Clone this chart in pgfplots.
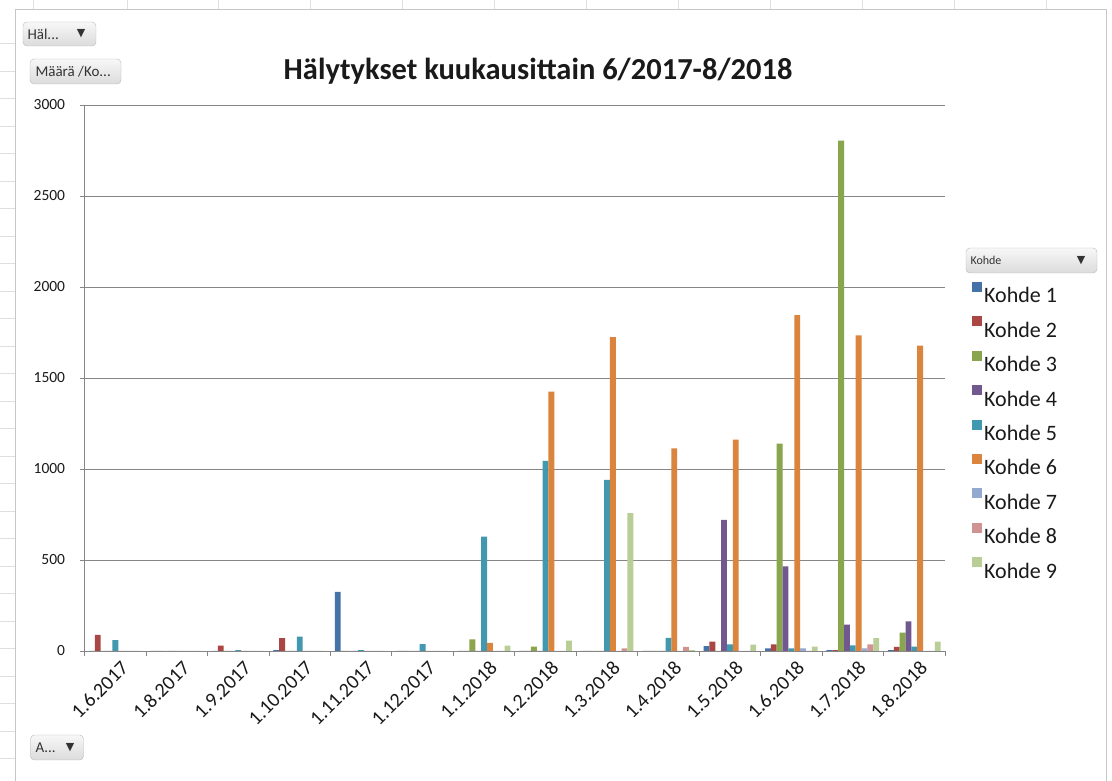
\documentclass[border=0pt]{standalone}
\usepackage{fontspec}
\setmainfont{Carlito}
\newfontfamily\symfont{DejaVu Sans}
\usepackage{pgfplots}
\usepackage{pgfplotstable}
\pgfplotsset{compat=1.18}

\definecolor{k1}{HTML}{4572A7}
\definecolor{k2}{HTML}{AA4643}
\definecolor{k3}{HTML}{89A54E}
\definecolor{k4}{HTML}{71588F}
\definecolor{k5}{HTML}{4198AF}
\definecolor{k6}{HTML}{DB843D}
\definecolor{k7}{HTML}{93A9CF}
\definecolor{k8}{HTML}{D19392}
\definecolor{k9}{HTML}{B9CD96}
\definecolor{gridgray}{HTML}{868686}
\definecolor{txt}{HTML}{1A1A1A}

% alerts per month and site
\pgfplotstableread{
x k1 k2 k3 k4 k5 k6 k7 k8 k9
0 0 88 0 0 60 0 0 0 0
1 0 0 0 0 0 0 0 0 0
2 0 30 0 0 5 0 0 0 0
3 5 71 0 0 79 0 0 0 0
4 325 0 0 0 5 0 0 0 0
5 0 0 0 0 38 0 0 0 0
6 0 0 64 0 628 44 0 0 29
7 0 0 24 0 1045 1425 0 0 57
8 0 0 0 0 940 1725 0 15 758
9 0 0 0 0 72 1113 0 22 5
10 27 51 0 720 37 1161 0 0 35
11 15 37 1139 465 15 1846 15 0 24
12 5 5 2804 145 31 1734 15 37 71
13 5 22 101 163 24 1678 0 0 51
}\datatable

% square legend swatch sitting at cap height
\pgfplotsset{/pgfplots/ybar legend/.style={
  /pgfplots/legend image code/.code={\fill[##1] (0pt,4pt) rectangle (10pt,14pt);}}}

\tikzset{
  pivotbtn/.style={draw=gray!55, rounded corners=4pt, top color=gray!6, bottom color=gray!28,
    inner sep=0pt},
  btntext/.style={font=\fontsize{15}{17}\selectfont, text=black!80}
}

\begin{document}
\begin{tikzpicture}[x=1pt,y=1pt]
\useasboundingbox (0,0) rectangle (1112,781);
\fill[white] (0,0) rectangle (1112,781);
% worksheet cell lines around the chart object
\foreach \gx in {33,127,218,310,402,494,586,678,770,862,954,1046}
  \draw[gray!25] (\gx,772) -- (\gx,781);
\foreach \gy in {738,710,683,655,628,600,573,545,518,490,463,435,408,380,353,325,298,270,243,215,188,160,133,105,78,50,23}
  \draw[gray!25] (0,\gy) -- (15,\gy);
% chart area frame
\draw[gray!45, line width=0.8pt] (15,-10) rectangle (1106,772);

\begin{axis}[
  at={(84.6pt,130pt)}, anchor=south west,
  scale only axis, width=860.4pt, height=546pt,
  xmin=-0.5, xmax=13.5, ymin=0, ymax=3000,
  ybar=0pt, bar width=5.85pt,
  axis lines*=left,
  axis line style={gridgray, line width=0.8pt},
  ytick={0,500,...,3000},
  ymajorgrids, grid style={gridgray, line width=0.8pt},
  tick align=outside,
  major tick length=5pt, minor tick length=5pt,
  tick style={gridgray, line width=0.8pt},
  xtick={0,...,13},
  xticklabels={1.6.2017,1.8.2017,1.9.2017,1.10.2017,1.11.2017,1.12.2017,1.1.2018,1.2.2018,1.3.2018,1.4.2018,1.5.2018,1.6.2018,1.7.2018,1.8.2018},
  major x tick style={draw=none},
  minor xtick={-0.5,0.5,...,13.5},
  /pgf/number format/assume math mode=true,
  /pgf/number format/1000 sep={},
  yticklabel style={font=\fontsize{15.5}{18}\selectfont, text=txt, xshift=-11pt},
  xticklabel style={font=\fontsize{20}{23}\selectfont, text=txt, rotate=45, anchor=east, xshift=4pt, yshift=-13pt},
  legend style={at={(axis description cs:1.0313,0.676)}, anchor=north west, draw=none, fill=none,
    font=\fontsize{22}{26}\selectfont, text=txt, row sep=10pt, inner sep=0pt,
    /tikz/every even column/.append style={column sep=0pt}},
  legend cell align=left,
  every axis plot/.append style={draw=none},
]
\addplot[fill=k1] table[x=x,y=k1]{\datatable}; \addlegendentry{Kohde 1}
\addplot[fill=k2] table[x=x,y=k2]{\datatable}; \addlegendentry{Kohde 2}
\addplot[fill=k3] table[x=x,y=k3]{\datatable}; \addlegendentry{Kohde 3}
\addplot[fill=k4] table[x=x,y=k4]{\datatable}; \addlegendentry{Kohde 4}
\addplot[fill=k5] table[x=x,y=k5]{\datatable}; \addlegendentry{Kohde 5}
\addplot[fill=k6] table[x=x,y=k6]{\datatable}; \addlegendentry{Kohde 6}
\addplot[fill=k7] table[x=x,y=k7]{\datatable}; \addlegendentry{Kohde 7}
\addplot[fill=k8] table[x=x,y=k8]{\datatable}; \addlegendentry{Kohde 8}
\addplot[fill=k9] table[x=x,y=k9]{\datatable}; \addlegendentry{Kohde 9}
\end{axis}

% title
\node[font=\bfseries\fontsize{30.5}{34}\selectfont, text=txt] at (538,710) {Hälytykset kuukausittain 6/2017-8/2018};

% pivot field buttons
\node[pivotbtn, minimum width=73pt, minimum height=24pt] at (59.5,747) {};
\node[anchor=west, btntext] at (24,747) {Häl...};
\node[font=\symfont\fontsize{11}{12}\selectfont, text=black!80] at (81,747) {▼};

\node[pivotbtn, minimum width=91pt, minimum height=25pt] at (75.5,709.5) {};
\node[anchor=west, btntext] at (32,709.5) {Määrä /Ko...};

\node[pivotbtn, minimum width=131pt, minimum height=25pt] at (1031.5,520.5) {};
\node[anchor=west, font=\fontsize{12}{14}\selectfont, text=black!80] at (967,520.5) {Kohde};
\node[font=\symfont\fontsize{11}{12}\selectfont, text=black!80] at (1081,520.5) {▼};

\node[pivotbtn, minimum width=53pt, minimum height=25pt] at (57,33.5) {};
\node[anchor=west, btntext] at (32,33.5) {A...};
\node[font=\symfont\fontsize{11}{12}\selectfont, text=black!80] at (70,33.5) {▼};
\end{tikzpicture}
\end{document}
